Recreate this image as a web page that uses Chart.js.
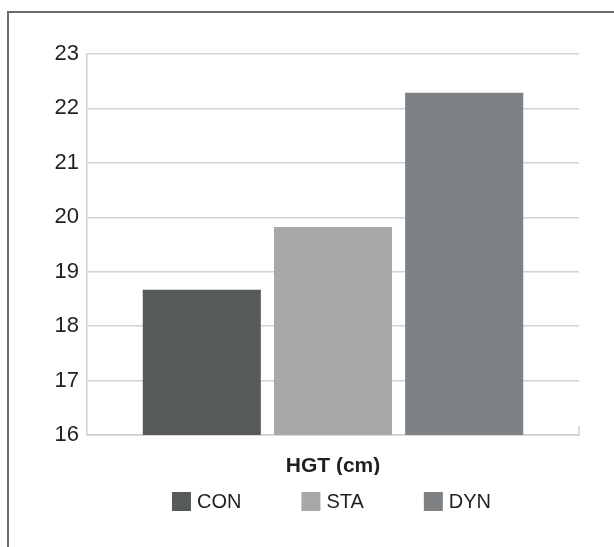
<!DOCTYPE html>
<html>
<head>
<meta charset="utf-8">
<script src="https://cdn.jsdelivr.net/npm/chart.js@4/dist/chart.umd.min.js"></script>
<style>
  html, body { margin: 0; padding: 0; background: #fff; overflow: hidden; }
  #wrap { position: relative; width: 614px; height: 547px; }
  #frame {
    position: absolute; left: 7px; top: 11px; width: 700px; height: 700px;
    border-left: 2px solid #6b6b6b; border-top: 2px solid #6b6b6b;
    box-sizing: border-box; pointer-events: none;
  }
  canvas { position: absolute; left: 0; top: 0; }
</style>
</head>
<body>
<div id="wrap">
  <div id="frame"></div>
  <canvas id="chart" width="614" height="547"></canvas>
</div>
<script>
// Handgrip test result per group
const categories = ['HGT (cm)'];
const groups = ['CON', 'STA', 'DYN'];
const conValues = [18.67];
const staValues = [19.82];
const dynValues = [22.29];
const yTicks = [16, 17, 18, 19, 20, 21, 22, 23];

const groupColors = ['#565a5a', '#a6a9a7', '#7e8183'];
const textColor = '#231f20';
const fontFamily = '"Liberation Sans", Arial, Helvetica, sans-serif';

// Legend row drawn under the category label, centred on the plot area
const bottomLegend = {
  id: 'bottomLegend',
  afterDraw(chart) {
    const ctx = chart.ctx;
    const area = chart.chartArea;
    const box = 19, gap = 6, spacing = 60;
    ctx.save();
    ctx.font = '20px ' + fontFamily;
    const items = chart.data.datasets.map(ds => ({
      text: ds.label, color: ds.backgroundColor, w: ctx.measureText(ds.label).width
    }));
    let total = 0;
    items.forEach((it, i) => { total += box + gap + it.w + (i ? spacing : 0); });
    let x = (area.left + area.right) / 2 - total / 2 - 1.5;
    const top = area.bottom + 57;
    ctx.textBaseline = 'middle';
    ctx.textAlign = 'left';
    items.forEach(it => {
      ctx.fillStyle = it.color;
      ctx.fillRect(x, top, box, box);
      ctx.fillStyle = textColor;
      ctx.fillText(it.text, x + box + gap, top + box / 2 + 1);
      x += box + gap + it.w + spacing;
    });
    ctx.restore();
  }
};

// Short upward tick at the right end of the category axis
const edgeTick = {
  id: 'edgeTick',
  afterDatasetsDraw(chart) {
    const ctx = chart.ctx;
    const area = chart.chartArea;
    ctx.save();
    ctx.strokeStyle = '#cfcfcf';
    ctx.lineWidth = 1.5;
    ctx.beginPath();
    ctx.moveTo(area.right, area.bottom);
    ctx.lineTo(area.right, area.bottom - 9);
    ctx.stroke();
    ctx.restore();
  }
};

new Chart(document.getElementById('chart'), {
  type: 'bar',
  data: {
    labels: categories,
    datasets: [
      { label: groups[0], data: conValues, backgroundColor: groupColors[0] },
      { label: groups[1], data: staValues, backgroundColor: groupColors[1] },
      { label: groups[2], data: dynValues, backgroundColor: groupColors[2] }
    ]
  },
  options: {
    responsive: false,
    animation: false,
    devicePixelRatio: 1,
    layout: { padding: { top: 54, right: 35, bottom: 72, left: 0 } },
    plugins: {
      legend: { display: false },
      tooltip: { enabled: false }
    },
    datasets: { bar: { categoryPercentage: 0.8, barPercentage: 0.9, borderWidth: 0 } },
    scales: {
      x: {
        grid: { display: false, drawTicks: false },
        border: { display: true, color: '#cfcfcf', width: 1.5 },
        ticks: {
          color: textColor,
          padding: 19,
          font: { family: fontFamily, size: 21, weight: 'bold' }
        },
        afterFit(scale) { scale.height = 40; }
      },
      y: {
        min: yTicks[0],
        max: yTicks[yTicks.length - 1],
        afterBuildTicks(scale) { scale.ticks = yTicks.map(v => ({ value: v })); },
        grid: { color: '#d2d2d2', lineWidth: 1.5, drawTicks: false },
        border: { display: true, color: '#d2d2d2', width: 1.5 },
        ticks: {
          color: textColor,
          padding: 8,
          font: { family: fontFamily, size: 22 }
        },
        afterFit(scale) { scale.width = 87; }
      }
    }
  },
  plugins: [bottomLegend, edgeTick]
});
</script>
</body>
</html>
